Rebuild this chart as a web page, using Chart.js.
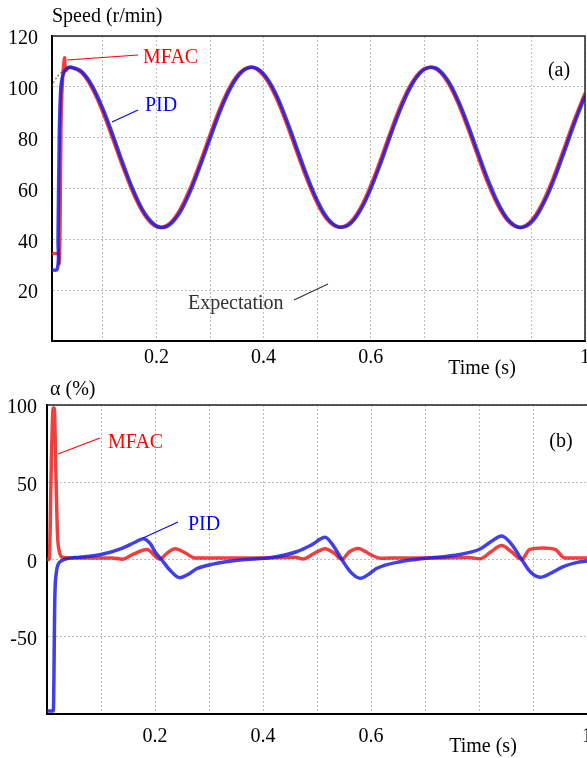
<!DOCTYPE html>
<html>
<head>
<meta charset="utf-8">
<script src="https://cdn.jsdelivr.net/npm/chart.js@4.4.0/dist/chart.umd.min.js"></script>
<style>
  html, body { margin: 0; padding: 0; background: #fff; }
  #wrap { position: relative; width: 587px; height: 758px; overflow: hidden; }
  canvas { position: absolute; left: 0; }
  #speedChart { top: 0; }
  #alphaChart { top: 375px; }
</style>
</head>
<body>
<div id="wrap">
  <canvas id="speedChart" width="587" height="385"></canvas>
  <canvas id="alphaChart" width="587" height="383"></canvas>
</div>
<script>
// ===== axis ticks =====
const timeGrid = [0.1, 0.2, 0.3, 0.4, 0.5, 0.6, 0.7, 0.8, 0.9, 1.0];
const timeLabels = ["", "0.2", "", "0.4", "", "0.6", "", "", "", "1"];
const speedTicks = [0, 20, 40, 60, 80, 100, 120];
const speedTickLabels = ["", "20", "40", "60", "80", "100", "120"];
const alphaTicks = [-100, -50, 0, 50, 100];
const alphaTickLabels = ["", "-50", "0", "50", "100"];

// ===== (a) speed, r/min =====
// start-up part (t < 0.04 s)
const expStartT = [0, 0.01, 0.02, 0.03];
const expStart = [98.8, 102.5, 105.3, 107.0];
const mfacStartT = [0, 0.0164, 0.0183, 0.0200, 0.0218, 0.0240, 0.0285, 0.0305, 0.035];
const mfacStart = [34.2, 34.2, 30.6, 45, 85, 100, 111.3, 106.5, 107.4];
const pidStartT = [0, 0.0146, 0.0162, 0.0185, 0.021, 0.0235, 0.028, 0.034];
const pidStart = [28.2, 28.2, 40, 80, 98, 103, 106, 107.4];

// tracking part, every 0.02 s
const speedT = [0.04, 0.06, 0.08, 0.1, 0.12, 0.14, 0.16, 0.18, 0.2, 0.22, 0.24, 0.26, 0.28, 0.3,
  0.32, 0.34, 0.36, 0.38, 0.4, 0.42, 0.44, 0.46, 0.48, 0.5, 0.52, 0.54, 0.56, 0.58, 0.6, 0.62,
  0.64, 0.66, 0.68, 0.7, 0.72, 0.74, 0.76, 0.78, 0.8, 0.82, 0.84, 0.86, 0.88, 0.9, 0.92, 0.94,
  0.96, 0.98, 1.0];
const speedExpect = [107.7, 105.7, 99.6, 90.3, 79.0, 67.3, 56.9, 49.1, 45.1,
  45.4, 50.0, 58.3, 69.0, 80.7, 91.9, 100.8, 106.3, 107.6,
  104.6, 97.6, 87.6, 76.0, 64.5, 54.6, 47.7, 44.8, 46.2,
  51.8, 60.8, 71.9, 83.7, 94.4, 102.5, 107.0, 107.3, 103.2,
  95.3, 84.8, 73.1, 61.8, 52.6, 46.6, 44.7, 47.2, 53.8,
  63.4, 74.8, 86.5, 97.2];
const speedMfac = [107.7, 105.6, 99.4, 90.0, 78.6, 67.0, 56.6, 48.9, 45.0,
  45.5, 50.3, 58.7, 69.4, 81.1, 92.3, 101.1, 106.4, 107.6,
  104.4, 97.3, 87.2, 75.6, 64.1, 54.3, 47.5, 44.8, 46.4,
  52.1, 61.2, 72.3, 84.1, 94.7, 102.7, 107.1, 107.2, 103.0,
  95.0, 84.4, 72.7, 61.4, 52.3, 46.4, 44.7, 47.4, 54.1,
  63.8, 75.2, 86.9, 97.5];
const speedPid = [107.7, 106.1, 100.4, 91.4, 80.2, 68.4, 57.8, 49.7, 45.3,
  45.1, 49.3, 57.3, 67.9, 79.5, 90.9, 100.1, 106.0, 107.7,
  105.1, 98.5, 88.7, 77.2, 65.6, 55.5, 48.2, 44.9, 45.8,
  51.1, 59.8, 70.7, 82.6, 93.4, 101.9, 106.8, 107.5, 103.8,
  96.2, 85.9, 74.3, 62.9, 53.4, 47.0, 44.7, 46.7, 53.0,
  62.3, 73.6, 85.4, 96.3];

// ===== (b) alpha, % =====
const alphaMfacT = [0, 0.004, 0.0085, 0.0115, 0.0135, 0.0165, 0.0195, 0.023, 0.028, 0.04,
  0.08, 0.12, 0.14, 0.16, 0.185, 0.209, 0.222, 0.237, 0.255, 0.274,
  0.3, 0.36, 0.42, 0.46, 0.474, 0.495, 0.515, 0.532, 0.546, 0.56,
  0.576, 0.6, 0.617, 0.66, 0.72, 0.78, 0.802, 0.822, 0.842, 0.86,
  0.879, 0.894, 0.919, 0.941, 0.959, 1.0];
const alphaMfac = [0, 0, 70, 98, 98, 55, 16, 5, 1.5, 1,
  1, 1, 0.2, 3.5, 6.5, 0.2, 4, 7, 4.5, 1,
  1, 1, 1.2, 1.5, 0.3, 4, 7, 4, 0.2, 5,
  7.2, 3, 0.8, 1, 1, 1.3, 0.5, 5, 9, 5,
  0.2, 6.5, 7.5, 6.5, 1, 1];
const alphaPidT = [0, 0.0117, 0.0145, 0.0175, 0.021, 0.027, 0.034, 0.06, 0.1, 0.14,
  0.162, 0.178, 0.192, 0.2, 0.212, 0.228, 0.246, 0.262, 0.277, 0.307,
  0.357, 0.419, 0.462, 0.49, 0.515, 0.53, 0.546, 0.562, 0.58, 0.596,
  0.611, 0.654, 0.703, 0.759, 0.802, 0.822, 0.842, 0.86, 0.879, 0.895,
  0.913, 0.935, 0.956, 0.98, 1.0];
const alphaPid = [-98, -98, -25, -8, -3, -0.8, 0.3, 1.5, 3.2, 7.4,
  11, 13.5, 10, 5, 0, -7, -11.8, -9.5, -6, -3,
  -0.3, 1.4, 5, 9.5, 14.4, 9, 0, -8, -12.2, -9.5,
  -5.7, -1.4, 0.8, 2.9, 6.8, 11.5, 15.2, 10, 0, -8,
  -11.5, -8.5, -4.6, -2, -1];

const RED = "rgba(236, 30, 30, 0.85)";
const BLUE = "rgba(30, 30, 228, 0.85)";
const SERIF = "'Liberation Serif', 'Times New Roman', serif";

Chart.defaults.font.family = SERIF;
Chart.defaults.font.size = 20;
Chart.defaults.color = "#000";

function pts(ts, vs) {
  return ts.map((t, i) => ({ x: t, y: vs[i] }));
}

// top/right frame lines, leader lines and text notes
function makeOverlay(cfg) {
  return {
    id: "overlay",
    afterDraw(chart) {
      const { ctx, chartArea: a } = chart;
      ctx.save();
      ctx.strokeStyle = "#222";
      ctx.lineWidth = 1.5;
      ctx.beginPath();
      ctx.moveTo(a.left, a.top);
      ctx.lineTo(a.right, a.top);
      if (cfg.rightFrame) ctx.lineTo(a.right, a.bottom);
      ctx.stroke();

      cfg.leaders.forEach(l => {
        ctx.strokeStyle = l.color;
        ctx.lineWidth = 1.2;
        ctx.beginPath();
        ctx.moveTo(l.x1, l.y1);
        ctx.lineTo(l.x2, l.y2);
        ctx.stroke();
      });

      ctx.textBaseline = "middle";
      cfg.notes.forEach(n => {
        ctx.font = (n.size || 20) + "px " + SERIF;
        ctx.fillStyle = n.color || "#000";
        ctx.textAlign = n.align || "left";
        ctx.fillText(n.text, n.x, n.y);
      });
      ctx.restore();
    }
  };
}

function lineSet(label, data, color, width, dash, smooth) {
  const ds = {
    label: label,
    data: data,
    borderColor: color,
    borderWidth: width,
    borderDash: dash || [],
    pointRadius: 0,
    fill: false
  };
  if (smooth) ds.tension = 0.4;
  else ds.cubicInterpolationMode = "monotone";
  return ds;
}

function timeAxis(min, height, pad) {
  return {
    type: "linear",
    min: min,
    max: 1.0,
    afterBuildTicks: s => { s.ticks = timeGrid.map(v => ({ value: v })); },
    afterFit: s => { s.height = height; s.paddingLeft = 0; s.paddingRight = 0; },
    ticks: {
      autoSkip: false,
      maxRotation: 0,
      padding: pad,
      callback: (v, i) => timeLabels[i]
    },
    grid: { color: "#bdbdbd", lineWidth: 1, drawTicks: false },
    border: { display: true, color: "#000", width: 2, dash: [2, 2] }
  };
}

function valueAxis(min, max, tickVals, tickText, width, pad) {
  return {
    type: "linear",
    min: min,
    max: max,
    afterBuildTicks: s => { s.ticks = tickVals.map(v => ({ value: v })); },
    afterFit: s => { s.width = width; s.paddingTop = 0; s.paddingBottom = 0; },
    ticks: {
      autoSkip: false,
      padding: pad,
      labelOffset: 3,
      callback: (v, i) => tickText[i]
    },
    grid: { color: "#bdbdbd", lineWidth: 1, drawTicks: false },
    border: { display: true, color: "#000", width: 2, dash: [2, 2] }
  };
}

// ===== (a) Speed chart =====
new Chart(document.getElementById("speedChart"), {
  type: "line",
  data: {
    datasets: [
      lineSet("PID", pts(pidStartT.concat(speedT), pidStart.concat(speedPid)), BLUE, 3.5, null, true),
      lineSet("MFAC", pts(mfacStartT.concat(speedT), mfacStart.concat(speedMfac)), RED, 3.5, null, true),
      lineSet("Expectation", pts(expStartT.concat(speedT), expStart.concat(speedExpect)), "#888", 1.5, [2, 2], true)
    ]
  },
  options: {
    responsive: false,
    animation: false,
    layout: { padding: { top: 36, right: 2, left: 0, bottom: 0 }, autoPadding: false },
    plugins: { legend: { display: false }, tooltip: { enabled: false } },
    scales: {
      x: timeAxis(0.005, 44, 5),
      y: valueAxis(0, 120, speedTicks, speedTickLabels, 52, 14)
    }
  },
  plugins: [makeOverlay({
    rightFrame: true,
    leaders: [
      { x1: 67, y1: 60, x2: 138, y2: 55, color: "#f00" },
      { x1: 112, y1: 122, x2: 138, y2: 110, color: "#00f" },
      { x1: 294, y1: 300, x2: 328, y2: 284, color: "#333" }
    ],
    notes: [
      { text: "Speed (r/min)", x: 52, y: 17 },
      { text: "MFAC", x: 143, y: 58, color: "#f00" },
      { text: "PID", x: 145, y: 106, color: "#00f" },
      { text: "Expectation", x: 188, y: 304, color: "#333" },
      { text: "(a)", x: 559, y: 71, align: "center" },
      { text: "Time (s)", x: 482, y: 369, align: "center" }
    ]
  })]
});

// ===== (b) alpha chart =====
new Chart(document.getElementById("alphaChart"), {
  type: "line",
  data: {
    datasets: [
      lineSet("PID", pts(alphaPidT, alphaPid), BLUE, 3.5),
      lineSet("MFAC", pts(alphaMfacT, alphaMfac), RED, 3.5)
    ]
  },
  options: {
    responsive: false,
    animation: false,
    layout: { padding: { top: 30, right: 0, left: 0, bottom: 0 }, autoPadding: false },
    plugins: { legend: { display: false }, tooltip: { enabled: false } },
    scales: {
      x: timeAxis(0, 44, 11),
      y: valueAxis(-100, 100, alphaTicks, alphaTickLabels, 47, 10)
    }
  },
  plugins: [makeOverlay({
    rightFrame: false,
    leaders: [
      { x1: 58, y1: 79, x2: 100, y2: 63, color: "#f00" },
      { x1: 143, y1: 163, x2: 178, y2: 147, color: "#00f" }
    ],
    notes: [
      { text: "\u03b1 (%)", x: 50, y: 15 },
      { text: "MFAC", x: 108, y: 68, color: "#f00" },
      { text: "PID", x: 188, y: 150, color: "#00f" },
      { text: "(b)", x: 561, y: 67, align: "center" },
      { text: "Time (s)", x: 483, y: 372, align: "center" }
    ]
  })]
});
</script>
</body>
</html>
